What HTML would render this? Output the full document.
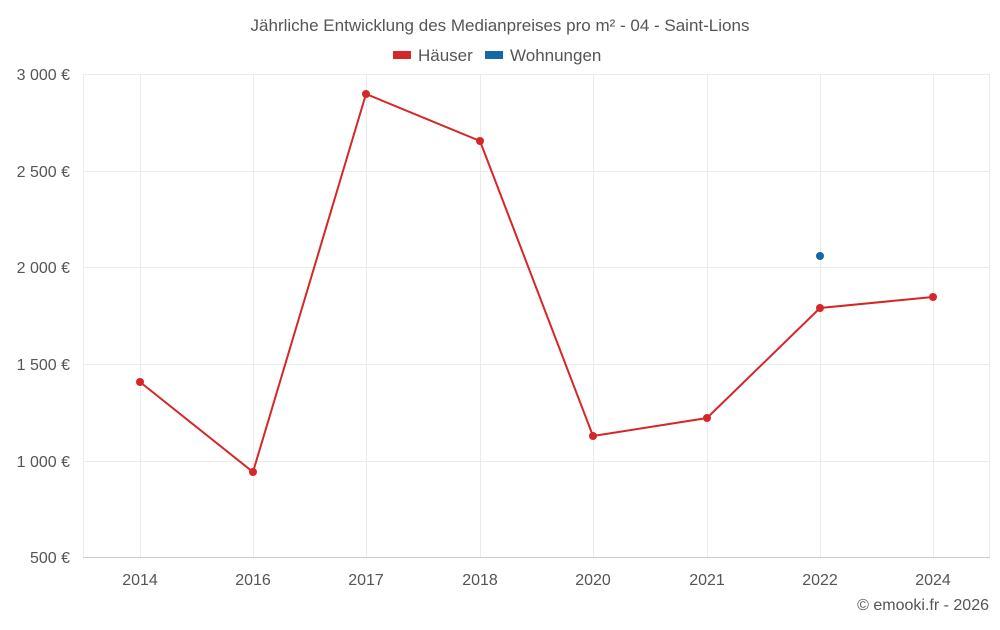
<!DOCTYPE html>
<html><head><meta charset="utf-8"><style>
body{margin:0;background:#fff;font-family:"Liberation Sans",sans-serif}
</style></head><body>
<svg width="1000" height="625" xmlns="http://www.w3.org/2000/svg" font-family="Liberation Sans, sans-serif">
<rect width="1000" height="625" fill="#fff"/>
<text x="500" y="31" text-anchor="middle" font-size="17" fill="#555">Jährliche Entwicklung des Medianpreises pro m² - 04 - Saint-Lions</text>
<rect x="393" y="51" width="18" height="8" fill="#d62728"/>
<text x="418" y="61" font-size="17" fill="#555">Häuser</text>
<rect x="485" y="51" width="18" height="8" fill="#1368a5"/>
<text x="510" y="61" font-size="17" fill="#555">Wohnungen</text>
<g stroke="#ebebeb" stroke-width="1">
<line x1="83" y1="74.5" x2="990" y2="74.5"/>
<line x1="83" y1="171.5" x2="990" y2="171.5"/>
<line x1="83" y1="267.5" x2="990" y2="267.5"/>
<line x1="83" y1="364.5" x2="990" y2="364.5"/>
<line x1="83" y1="461.5" x2="990" y2="461.5"/>
<line x1="83.5" y1="74" x2="83.5" y2="557"/>
<line x1="140.5" y1="74" x2="140.5" y2="557"/>
<line x1="253.5" y1="74" x2="253.5" y2="557"/>
<line x1="366.5" y1="74" x2="366.5" y2="557"/>
<line x1="480.5" y1="74" x2="480.5" y2="557"/>
<line x1="593.5" y1="74" x2="593.5" y2="557"/>
<line x1="707.5" y1="74" x2="707.5" y2="557"/>
<line x1="820.5" y1="74" x2="820.5" y2="557"/>
<line x1="933.5" y1="74" x2="933.5" y2="557"/>
<line x1="989.5" y1="74" x2="989.5" y2="557"/>
</g>
<line x1="83" y1="557.5" x2="990" y2="557.5" stroke="#ccc"/>
<g font-size="16" fill="#555" text-anchor="end">
<text x="70" y="80">3 000 €</text>
<text x="70" y="177">2 500 €</text>
<text x="70" y="273">2 000 €</text>
<text x="70" y="370">1 500 €</text>
<text x="70" y="467">1 000 €</text>
<text x="70" y="563">500 €</text>
</g>
<g font-size="16" fill="#555" text-anchor="middle">
<text x="140" y="585">2014</text><text x="253" y="585">2016</text><text x="366" y="585">2017</text><text x="480" y="585">2018</text>
<text x="593" y="585">2020</text><text x="707" y="585">2021</text><text x="820" y="585">2022</text><text x="933" y="585">2024</text>
</g>
<polyline fill="none" stroke="#d62728" stroke-width="2" points="140,382 253,472 366,94 480,141 593,436 707,418 820,308 933,297"/>
<g fill="#d62728">
<circle cx="140" cy="382" r="4"/><circle cx="253" cy="472" r="4"/><circle cx="366" cy="94" r="4"/><circle cx="480" cy="141" r="4"/>
<circle cx="593" cy="436" r="4"/><circle cx="707" cy="418" r="4"/><circle cx="820" cy="308" r="4"/><circle cx="933" cy="297" r="4"/>
</g>
<circle cx="820" cy="256" r="4" fill="#1368a5"/>
<text x="989" y="610" text-anchor="end" font-size="16" fill="#555">© emooki.fr - 2026</text>
</svg>
</body></html>
